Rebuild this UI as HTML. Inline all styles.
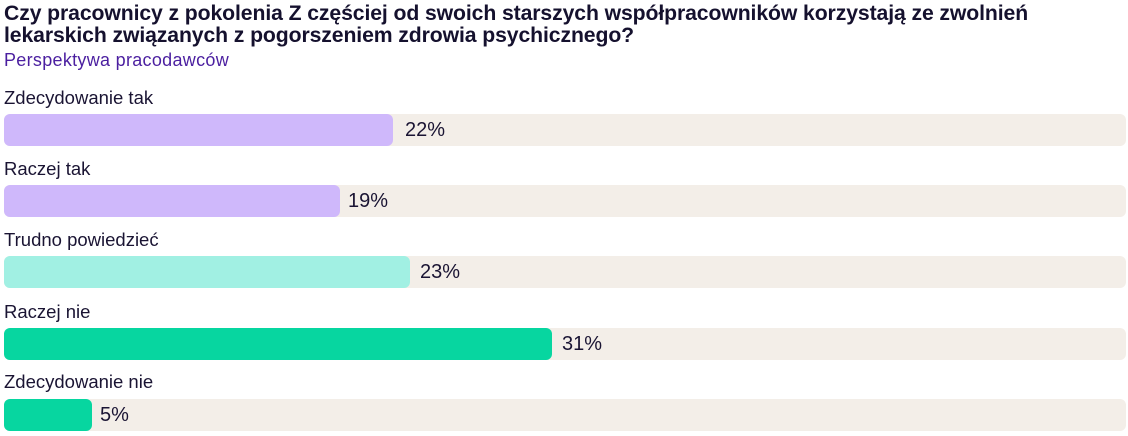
<!DOCTYPE html>
<html><head><meta charset="utf-8"><style>
body{margin:0;width:1128px;height:436px;background:#fff;font-family:"Liberation Sans",sans-serif;color:#1a1433;position:relative;overflow:hidden}
.t{position:absolute;left:4px;top:3px;font-weight:bold;font-size:21.2px;line-height:22px;letter-spacing:-0.1px;color:#15112e;white-space:nowrap}
.s{position:absolute;left:4px;top:50px;font-size:18px;color:#4b1fa0;letter-spacing:0.3px}
.l{position:absolute;left:4px;font-size:18.5px;color:#1a1433}
.tr{position:absolute;left:4px;width:1122px;height:32px;background:#f3eee8;border-radius:6px}
.b{position:absolute;left:0;top:0;height:32px;border-radius:6px}
.v{position:absolute;top:5px;font-size:20px;color:#1a1433}
</style></head><body>
<div class="t">Czy pracownicy z pokolenia Z częściej od swoich starszych współpracowników korzystają ze zwolnień<br>lekarskich związanych z pogorszeniem zdrowia psychicznego?</div>
<div class="s">Perspektywa pracodawców</div>

<div class="l" style="top:87px">Zdecydowanie tak</div>
<div class="tr" style="top:114px"><div class="b" style="width:389px;background:#cfb8fb"></div><div class="v" style="left:401px">22%</div></div>

<div class="l" style="top:158px">Raczej tak</div>
<div class="tr" style="top:185px"><div class="b" style="width:336px;background:#cfb8fb"></div><div class="v" style="left:344px">19%</div></div>

<div class="l" style="top:229px">Trudno powiedzieć</div>
<div class="tr" style="top:256px"><div class="b" style="width:406px;background:#a1f0e3"></div><div class="v" style="left:416px">23%</div></div>

<div class="l" style="top:301px">Raczej nie</div>
<div class="tr" style="top:328px"><div class="b" style="width:548px;background:#07d6a0"></div><div class="v" style="left:558px">31%</div></div>

<div class="l" style="top:371px">Zdecydowanie nie</div>
<div class="tr" style="top:399px"><div class="b" style="width:88px;background:#07d6a0"></div><div class="v" style="left:96px">5%</div></div>
</body></html>
